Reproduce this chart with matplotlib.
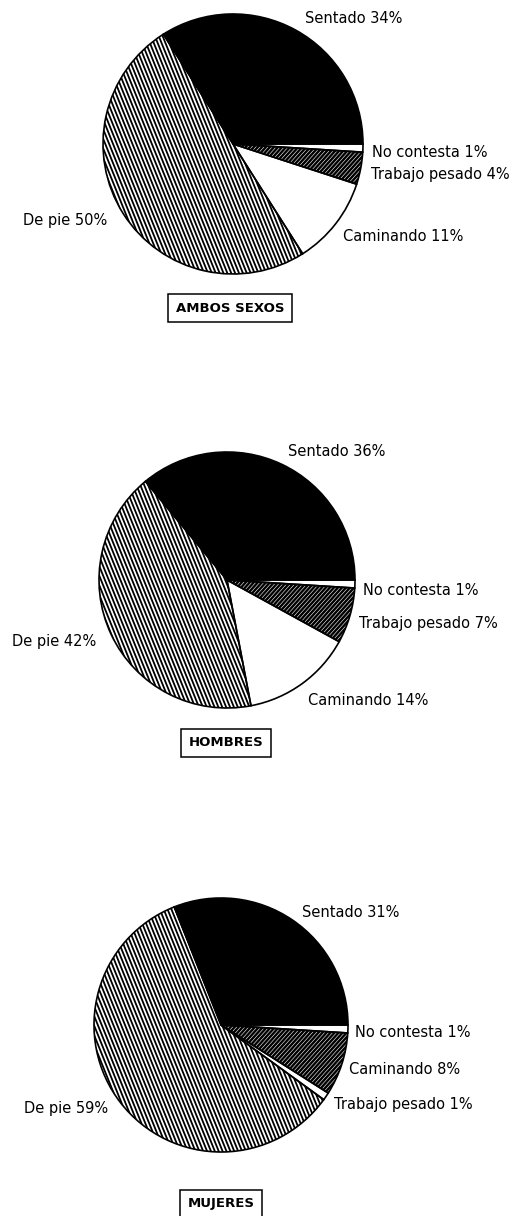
import numpy as np
import matplotlib.pyplot as plt
from matplotlib.collections import LineCollection

W, H = 519, 1216

# data, slices listed clockwise starting at 3 o'clock
titles = ["AMBOS SEXOS", "HOMBRES", "MUJERES"]
labels_ambos = ["No contesta", "Trabajo pesado", "Caminando", "De pie", "Sentado"]
values_ambos = [1, 4, 11, 50, 34]
labels_hombres = ["No contesta", "Trabajo pesado", "Caminando", "De pie", "Sentado"]
values_hombres = [1, 7, 14, 42, 36]
labels_mujeres = ["No contesta", "Caminando", "Trabajo pesado", "De pie", "Sentado"]
values_mujeres = [1, 8, 1, 59, 31]

all_labels = [labels_ambos, labels_hombres, labels_mujeres]
all_values = [values_ambos, values_hombres, values_mujeres]

# layout in pixels (y measured from the top)
centers = [(233, 144), (227, 580), (221, 1025)]
radii = [130, 128, 127]
label_pos = [
    [(372, 157), (371, 179), (343, 241), (23, 225), (305, 23)],
    [(363, 595), (359, 628), (308, 705), (12, 646), (288, 456)],
    [(355, 1037), (349, 1074), (334, 1109), (24, 1113), (302, 917)],
]
title_pos = [(230, 308), (226, 743), (221, 1204)]

# fill style by slice position
fill_kind = ["white", "dark", "white", "light", "black"]
face = {"white": "white", "dark": "black", "light": "white", "black": "black"}


def hatch_wedge(ax, wedge, cx, cy, r, angle, spacing, color, lw):
    d = np.deg2rad(angle)
    u = np.array([np.cos(d), np.sin(d)])
    n = np.array([-u[1], u[0]])
    segs = []
    for o in np.arange(-r, r + spacing, spacing):
        p = np.array([cx, cy]) + o * n
        segs.append([p - r * u, p + r * u])
    lc = LineCollection(segs, colors=color, linewidths=lw, zorder=2)
    lc.set_clip_path(wedge)
    ax.add_collection(lc)


fig = plt.figure(figsize=(W / 100, H / 100), dpi=100)
ax = fig.add_axes([0, 0, 1, 1])

for i in range(3):
    cx, cy = centers[i][0], H - centers[i][1]
    r = radii[i]
    vals = all_values[i]
    wedges, _ = ax.pie(vals, startangle=0, counterclock=False, center=(cx, cy),
                       radius=r, colors=[face[k] for k in fill_kind],
                       wedgeprops=dict(edgecolor="none"), frame=True)
    for w, kind in zip(wedges, fill_kind):
        if kind == "light":
            hatch_wedge(ax, w, cx, cy, r, 112, 3.6, "black", 1.3)
        elif kind == "dark":
            hatch_wedge(ax, w, cx, cy, r, 48, 3.0, "white", 0.4)
    # outlines on top of the hatching
    ax.pie(vals, startangle=0, counterclock=False, center=(cx, cy), radius=r,
           wedgeprops=dict(facecolor="none", edgecolor="black", linewidth=1.2, zorder=3),
           frame=True)

    for lab, v, (tx, ty) in zip(all_labels[i], vals, label_pos[i]):
        ax.text(tx, H - ty, f"{lab} {v}%", fontsize=10.5, ha="left", va="baseline",
                color="black")

    ax.text(title_pos[i][0], H - title_pos[i][1], titles[i], fontsize=9.5,
            fontweight="bold", ha="center", va="center",
            bbox=dict(boxstyle="square,pad=0.6", fc="white", ec="black", lw=1.1))

ax.set_xlim(0, W)
ax.set_ylim(0, H)
ax.set_aspect("auto")
ax.axis("off")

plt.savefig("out.png", dpi=100)
